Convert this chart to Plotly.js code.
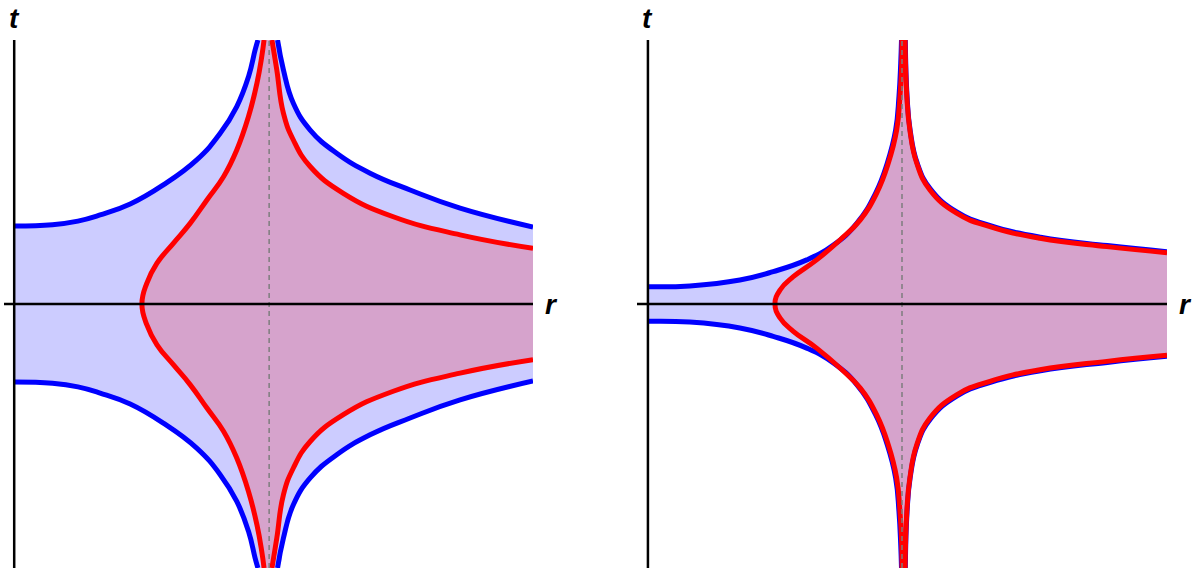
<!DOCTYPE html>
<html>
<head>
<meta charset="utf-8">
<script src="https://cdn.plot.ly/plotly-3.0.1.min.js"></script>
<style>
  html, body { margin: 0; padding: 0; background: #fff; }
  #plot { width: 1203px; height: 575px; }
</style>
</head>
<body>
<div id="plot"></div>
<script>
// upper halves; the curves are symmetric in t
// left panel
const rBlueL1 = [0, 0.15, 0.25, 0.337, 0.455, 0.585, 0.716, 0.808, 0.873, 0.919, 0.945, 0.956];
const tBlueL1 = [0.306, 0.311, 0.325, 0.349, 0.392, 0.467, 0.565, 0.669, 0.774, 0.891, 0.996, 1.035];
const rBlueR1 = [1.033, 1.056, 1.095, 1.161, 1.265, 1.396, 1.553, 1.749, 2.035];
const tBlueR1 = [1.035, 0.918, 0.787, 0.682, 0.591, 0.513, 0.447, 0.376, 0.302];
const rRedL1 = [0.501, 0.520, 0.560, 0.625, 0.690, 0.756, 0.821, 0.873, 0.919, 0.952, 0.971, 0.980];
const tRedL1 = [0, 0.081, 0.160, 0.239, 0.316, 0.408, 0.499, 0.604, 0.735, 0.865, 0.970, 1.035];
const rRedR1 = [1.011, 1.030, 1.056, 1.095, 1.161, 1.291, 1.487, 1.749, 2.035];
const tRedR1 = [1.035, 0.918, 0.748, 0.643, 0.539, 0.434, 0.342, 0.271, 0.218];

// right panel
const rBlueL2 = [0, 0.165, 0.362, 0.493, 0.625, 0.730, 0.822, 0.896, 0.942, 0.975, 0.988, 0.995, 0.998];
const tBlueL2 = [0.068, 0.071, 0.094, 0.127, 0.173, 0.231, 0.316, 0.434, 0.552, 0.682, 0.813, 0.944, 1.035];
const rBlueR2 = [1.013, 1.020, 1.032, 1.060, 1.112, 1.217, 1.348, 1.545, 1.808, 2.043];
const tBlueR2 = [1.035, 0.813, 0.682, 0.552, 0.451, 0.360, 0.307, 0.262, 0.229, 0.205];
const rRedL2 = [0.500, 0.520, 0.572, 0.664, 0.756, 0.835, 0.900, 0.946, 0.979, 0.992, 0.999, 1.000];
const tRedL2 = [0, 0.055, 0.107, 0.173, 0.251, 0.329, 0.434, 0.552, 0.682, 0.813, 0.944, 1.035];
const rRedR2 = [1.012, 1.019, 1.031, 1.058, 1.110, 1.215, 1.346, 1.543, 1.806, 2.043];
const tRedR2 = [1.035, 0.813, 0.682, 0.552, 0.447, 0.356, 0.303, 0.258, 0.225, 0.201];

const BLUE = '#0000ff';
const RED = '#ff0000';
const SMOOTH = 1.3;
const neg = a => a.map(v => -v);
const rev = a => a.slice().reverse();

// area between upper and lower boundary (both run left to right, so tonexty works)
function fillPair(rL, tL, rR, tR, color, xa, ya) {
    const x = [...rL, ...rR];
    const upper = [...tL, ...tR];
    const base = { x, xaxis: xa, yaxis: ya, type: 'scatter', mode: 'lines',
                   line: { width: 0, shape: 'spline', smoothing: SMOOTH }, hoverinfo: 'skip' };
    return [
        { ...base, y: upper },
        { ...base, y: neg(upper), fill: 'tonexty', fillcolor: color }
    ];
}

function lineTrace(rL, tL, rR, tR, axisStart, color, xa, ya) {
    let x, y;
    if (axisStart) {
        x = [...rL, null, ...rR, null, ...rL, null, ...rR];
        y = [...tL, null, ...tR, null, ...neg(tL), null, ...neg(tR)];
    } else {
        // nose on the r axis: draw the left branch in one go
        x = [...rev(rL), ...rL.slice(1), null, ...rR, null, ...rR];
        y = [...rev(tL), ...neg(tL).slice(1), null, ...tR, null, ...neg(tR)];
    }
    return {
        x, y, xaxis: xa, yaxis: ya, type: 'scatter', mode: 'lines',
        line: { color, width: 5, shape: 'spline', smoothing: SMOOTH },
        connectgaps: false, hoverinfo: 'skip'
    };
}

const traces = [
    ...fillPair(rBlueL1, tBlueL1, rBlueR1, tBlueR1, 'rgba(0,0,255,0.2)', 'x', 'y'),
    ...fillPair(rRedL1, tRedL1, rRedR1, tRedR1, 'rgba(255,0,0,0.2)', 'x', 'y'),
    lineTrace(rBlueL1, tBlueL1, rBlueR1, tBlueR1, true, BLUE, 'x', 'y'),
    lineTrace(rRedL1, tRedL1, rRedR1, tRedR1, false, RED, 'x', 'y'),
    ...fillPair(rBlueL2, tBlueL2, rBlueR2, tBlueR2, 'rgba(0,0,255,0.2)', 'x2', 'y2'),
    ...fillPair(rRedL2, tRedL2, rRedR2, tRedR2, 'rgba(255,0,0,0.2)', 'x2', 'y2'),
    lineTrace(rBlueL2, tBlueL2, rBlueR2, tBlueR2, true, BLUE, 'x2', 'y2'),
    lineTrace(rRedL2, tRedL2, rRedR2, tRedR2, false, RED, 'x2', 'y2')
];

function axisShapes(xa, ya) {
    return [
        { type: 'line', xref: xa, yref: ya + ' domain', x0: 1, x1: 1, y0: 0, y1: 1,
          line: { color: 'rgb(125,125,125)', width: 1.5, dash: '5px,4px' }, layer: 'above' },
        { type: 'line', xref: xa + ' domain', yref: ya, x0: 0, x1: 1, y0: 0, y1: 0,
          line: { color: 'black', width: 2.5 }, layer: 'above' },
        { type: 'line', xref: xa, yref: ya + ' domain', x0: 0, x1: 0, y0: 0, y1: 1,
          line: { color: 'black', width: 2.5 }, layer: 'above' }
    ];
}

const labelFont = { family: 'Liberation Sans, Arial, sans-serif', size: 28, color: 'black', weight: 'bold', style: 'italic' };

function axisLabels(xa, ya) {
    return [
        { text: 't', xref: xa, yref: ya + ' domain', x: 0, y: 1, xanchor: 'center', yanchor: 'bottom',
          yshift: 4, showarrow: false, font: labelFont },
        { text: 'r', xref: xa + ' domain', yref: ya, x: 1, y: 0, xanchor: 'left', yanchor: 'middle',
          xshift: 10, showarrow: false, font: labelFont }
    ];
}

const hidden = { visible: false, fixedrange: true };

const layout = {
    width: 1203, height: 575,
    margin: { l: 0, r: 0, t: 0, b: 0 },
    paper_bgcolor: 'white', plot_bgcolor: 'rgba(0,0,0,0)',
    showlegend: false,
    xaxis: { ...hidden, domain: [4 / 1203, 533 / 1203], range: [-0.04, 2.035] },
    yaxis: { ...hidden, domain: [7 / 575, 535 / 575], range: [-1.035, 1.035] },
    xaxis2: { ...hidden, domain: [637 / 1203, 1167 / 1203], range: [-0.043, 2.043], anchor: 'y2' },
    yaxis2: { ...hidden, domain: [7 / 575, 535 / 575], range: [-1.035, 1.035], anchor: 'x2' },
    shapes: [...axisShapes('x', 'y'), ...axisShapes('x2', 'y2')],
    annotations: [...axisLabels('x', 'y'), ...axisLabels('x2', 'y2')]
};

Plotly.newPlot('plot', traces, layout, { displayModeBar: false, staticPlot: true });
</script>
</body>
</html>
